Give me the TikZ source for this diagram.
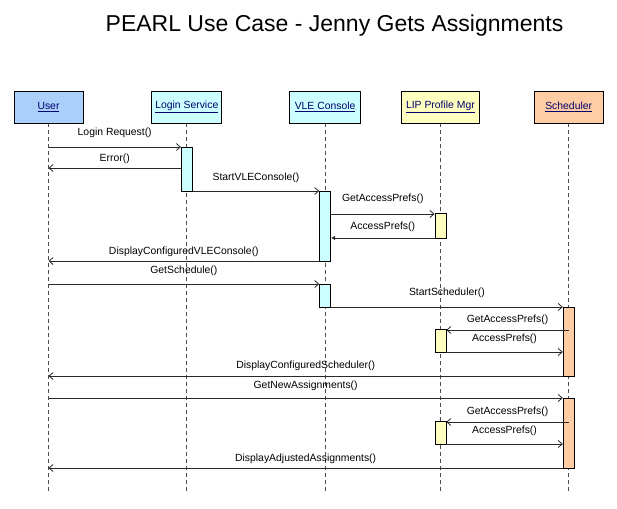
\documentclass[tikz,border=0pt]{standalone}
\usepackage{fontspec}
\setmainfont{Liberation Sans}
\usepackage{xcolor}
\usepackage{tikz}
\usetikzlibrary{arrows.meta, positioning, backgrounds}
\definecolor{userbg}{RGB}{170, 207, 250}
\definecolor{servbg}{RGB}{204, 255, 255}
\definecolor{profbg}{RGB}{255, 255, 192}
\definecolor{schedbg}{RGB}{255, 204, 164}
\definecolor{namecol}{RGB}{0, 0, 110}
\definecolor{linecol}{RGB}{40, 40, 40}
\tikzset{
    font=\fontsize{10.4}{12}\selectfont,
    actor/.style={rectangle, draw=black, line width=0.8pt, minimum height=32pt, inner sep=0pt, text=namecol},
    activation/.style={rectangle, draw=black, line width=0.8pt, minimum width=11pt, inner sep=0pt},
    lifeline/.style={draw=black!70, line width=0.8pt, dash pattern=on 4pt off 3pt},
    call/.style={-{Straight Barb[length=4pt, width=7pt]}, line width=0.8pt, color=linecol},
    reply/.style={-{Latex[length=4pt, width=4.5pt]}, line width=0.8pt, color=linecol},
    msg/.style={midway, above=#1, inner sep=1pt, text=black},
    msg/.default=5pt
}

\begin{document}
\begin{tikzpicture}[x=1pt, y=-1pt]

    \useasboundingbox (0,0) rectangle (617,508);

    \node (title) [anchor=base, font=\fontsize{23}{27}\selectfont] at (334.5,32) {PEARL Use Case - Jenny Gets Assignments};

    \node (user)  [actor, fill=userbg,  minimum width=69pt] at (48.5,107) {\underline{User}};
    \node (login) [actor, fill=servbg,  minimum width=70pt, right=68pt of user]  {\underline{Login Service}};
    \node (vle)   [actor, fill=servbg,  minimum width=71pt, right=67pt of login] {\underline{VLE Console}};
    \node (lip)   [actor, fill=profbg,  minimum width=78pt, right=40pt of vle]   {\underline{LIP Profile Mgr}};
    \node (sched) [actor, fill=schedbg, minimum width=69pt, right=54pt of lip]   {\underline{Scheduler}};

    \coordinate (bottom) at (0,493);
    \begin{scope}[on background layer]
        \foreach \who in {user, login, vle, lip, sched}
            \draw [lifeline] (\who.south) -- (\who.south |- bottom);
    \end{scope}

    \node (lsact)   [activation, fill=servbg,  minimum height=44pt, below=24pt of login] {};
    \node (vleact1) [activation, fill=servbg,  minimum height=70pt, below=68pt of vle]   {};
    \node (lipact1) [activation, fill=profbg,  minimum height=25pt, below=90pt of lip]   {};
    \node (vleact2) [activation, fill=servbg,  minimum height=23pt, below=161pt of vle]  {};
    \node (schact1) [activation, fill=schedbg, minimum height=69pt, below=184pt of sched] {};
    \node (lipact2) [activation, fill=profbg,  minimum height=23pt, below=206pt of lip]  {};
    \node (schact2) [activation, fill=schedbg, minimum height=70pt, below=275pt of sched] {};
    \node (lipact3) [activation, fill=profbg,  minimum height=23pt, below=298pt of lip]  {};

    \foreach \n/\y in {1/147, 2/168, 3/191, 4/214, 5/238, 6/261, 7/284, 8/307,
                       9/330, 10/352, 11/376, 12/398, 13/422, 14/444, 15/468}
        \coordinate (r\n) at (0,\y);

    \draw [call]  (user |- r1) -- (lsact.west |- r1) node [msg=8pt] {Login Request()};
    \draw [call]  (lsact.west |- r2) -- (user |- r2) node [msg=3pt] {Error()};
    \draw [call]  (lsact.east |- r3) -- (vleact1.west |- r3) node [msg=7pt] {StartVLEConsole()};
    \draw [call]  (vleact1.east |- r4) -- (lipact1.west |- r4) node [msg=9pt] {GetAccessPrefs()};
    \draw [reply] (lipact1.west |- r5) -- (vleact1.east |- r5) node [msg=5pt] {AccessPrefs()};
    \draw [call]  (vleact1.west |- r6) -- (user |- r6) node [msg=3pt] {DisplayConfiguredVLEConsole()};
    \draw [call]  (user |- r7) -- (vleact2.west |- r7) node [msg=7pt] {GetSchedule()};
    \draw [call]  (vleact2.east |- r8) -- (schact1.west |- r8) node [msg=8pt] {StartScheduler()};
    \draw [call]  (sched |- r9) -- (lipact2.east |- r9) node [msg=4pt] {GetAccessPrefs()};
    \draw [call]  (lipact2.east |- r10) -- (schact1.west |- r10) node [msg=7pt] {AccessPrefs()};
    \draw [call]  (schact1.west |- r11) -- (user |- r11) node [msg=4pt] {DisplayConfiguredScheduler()};
    \draw [call]  (user |- r12) -- (schact2.west |- r12) node [msg=6pt] {GetNewAssignments()};
    \draw [call]  (sched |- r13) -- (lipact3.east |- r13) node [msg=4pt] {GetAccessPrefs()};
    \draw [call]  (lipact3.east |- r14) -- (schact2.west |- r14) node [msg=7pt] {AccessPrefs()};
    \draw [call]  (schact2.west |- r15) -- (user |- r15) node [msg=3pt] {DisplayAdjustedAssignments()};

\end{tikzpicture}
\end{document}
